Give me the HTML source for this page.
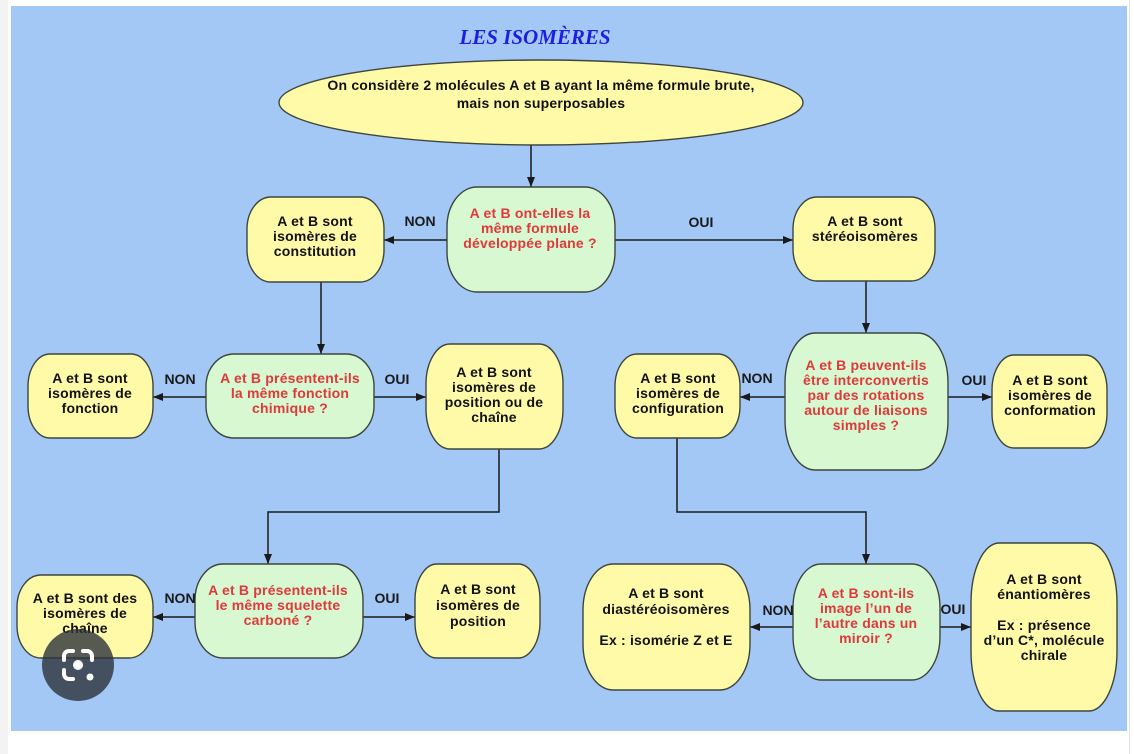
<!DOCTYPE html>
<html>
<head>
<meta charset="utf-8">
<style>
  html,body{margin:0;padding:0;background:#fff;}
  body{width:1134px;height:754px;overflow:hidden;}
  svg{display:block;}
  .t{font-family:"Liberation Sans",Arial,sans-serif;font-weight:bold;font-size:14px;text-anchor:middle;fill:#111;letter-spacing:0.2px;}
  .r{fill:#e0393b;}
  .lb{font-family:"Liberation Sans",Arial,sans-serif;font-weight:bold;font-size:14px;text-anchor:middle;fill:#1a1a1a;}
  .y{fill:#fffaa8;stroke:#3d463d;stroke-width:1.4;}
  .g{fill:#d7f8d0;stroke:#3d463d;stroke-width:1.4;}
  .ln{stroke:#1a1a1a;stroke-width:1.5;fill:none;}
</style>
</head>
<body>
<svg width="1134" height="754" viewBox="0 0 1134 754" xmlns="http://www.w3.org/2000/svg">
  <defs>
    <marker id="a" viewBox="0 0 10 8" refX="10" refY="4" markerWidth="10" markerHeight="8" markerUnits="userSpaceOnUse" orient="auto">
      <path d="M0,0 L10,4 L0,8 z" fill="#1a1a1a"/>
    </marker>
  </defs>

  <rect x="0" y="0" width="1134" height="754" fill="#ffffff"/>
  <rect x="0" y="0" width="8" height="754" fill="#f3f3f3"/>
  <rect x="1129" y="0" width="1" height="754" fill="#e2e2e2"/>
  <rect x="11" y="6" width="1116" height="725" fill="#a3c8f6"/>

  <text x="535" y="44" font-family="'Liberation Serif','Times New Roman',serif" font-weight="bold" font-style="italic" font-size="21" fill="#1e1ee0" text-anchor="middle">LES ISOMÈRES</text>

  <line class="ln" x1="531" y1="145" x2="531" y2="187" marker-end="url(#a)"/>
  <line class="ln" x1="447" y1="240" x2="384" y2="240" marker-end="url(#a)"/>
  <line class="ln" x1="615" y1="240" x2="793" y2="240" marker-end="url(#a)"/>
  <line class="ln" x1="321" y1="282" x2="321" y2="354" marker-end="url(#a)"/>
  <line class="ln" x1="206" y1="397" x2="153" y2="397" marker-end="url(#a)"/>
  <line class="ln" x1="374" y1="397" x2="426" y2="397" marker-end="url(#a)"/>
  <line class="ln" x1="866" y1="281" x2="866" y2="333" marker-end="url(#a)"/>
  <line class="ln" x1="785" y1="397" x2="740" y2="397" marker-end="url(#a)"/>
  <line class="ln" x1="948" y1="397" x2="992" y2="397" marker-end="url(#a)"/>
  <polyline class="ln" points="499,449 499,512 268,512 268,564" marker-end="url(#a)"/>
  <line class="ln" x1="195" y1="617" x2="153" y2="617" marker-end="url(#a)"/>
  <line class="ln" x1="363" y1="617" x2="415" y2="617" marker-end="url(#a)"/>
  <polyline class="ln" points="677,438 677,512 866,512 866,564" marker-end="url(#a)"/>
  <line class="ln" x1="793" y1="627" x2="750" y2="627" marker-end="url(#a)"/>
  <line class="ln" x1="940" y1="627" x2="971" y2="627" marker-end="url(#a)"/>

  <ellipse class="y" cx="541" cy="102.5" rx="262" ry="42.5"/>
  <text class="t" x="541" y="90">On considère 2 molécules A et B ayant la même formule brute,</text>
  <text class="t" x="541" y="108">mais non superposables</text>

  <rect class="g" x="447" y="187" width="168" height="105" rx="30" ry="40"/>
  <text class="t r" x="530" y="218">A et B ont-elles la</text>
  <text class="t r" x="530" y="233">même formule</text>
  <text class="t r" x="530" y="248">développée plane ?</text>

  <rect class="y" x="247" y="197" width="137" height="85" rx="24" ry="32"/>
  <text class="t" x="315" y="226">A et B sont</text>
  <text class="t" x="315" y="241">isomères de</text>
  <text class="t" x="315" y="256">constitution</text>

  <rect class="y" x="793" y="197" width="142" height="84" rx="24" ry="32"/>
  <text class="t" x="865" y="226">A et B sont</text>
  <text class="t" x="865" y="241">stéréoisomères</text>

  <text class="lb" x="420" y="226">NON</text>
  <text class="lb" x="701" y="227">OUI</text>

  <rect class="g" x="206" y="354" width="168" height="84" rx="28" ry="32"/>
  <text class="t r" x="290" y="383">A et B présentent-ils</text>
  <text class="t r" x="290" y="398">la même fonction</text>
  <text class="t r" x="290" y="413">chimique ?</text>

  <rect class="y" x="28" y="354" width="125" height="84" rx="22" ry="32"/>
  <text class="t" x="90" y="383">A et B sont</text>
  <text class="t" x="90" y="398">isomères de</text>
  <text class="t" x="90" y="413">fonction</text>

  <text class="lb" x="180" y="384">NON</text>
  <text class="lb" x="397" y="384">OUI</text>

  <rect class="y" x="426" y="344" width="137" height="105" rx="24" ry="40"/>
  <text class="t" x="494" y="377">A et B sont</text>
  <text class="t" x="494" y="392">isomères de</text>
  <text class="t" x="494" y="407">position ou de</text>
  <text class="t" x="494" y="422">chaîne</text>

  <rect class="g" x="785" y="333" width="163" height="137" rx="30" ry="50"/>
  <text class="t r" x="866" y="370">A et B peuvent-ils</text>
  <text class="t r" x="866" y="385">être interconvertis</text>
  <text class="t r" x="866" y="400">par des rotations</text>
  <text class="t r" x="866" y="415">autour de liaisons</text>
  <text class="t r" x="866" y="430">simples ?</text>

  <rect class="y" x="615" y="354" width="125" height="84" rx="22" ry="32"/>
  <text class="t" x="678" y="383">A et B sont</text>
  <text class="t" x="678" y="398">isomères de</text>
  <text class="t" x="678" y="413">configuration</text>

  <text class="lb" x="757" y="383">NON</text>
  <text class="lb" x="974" y="385">OUI</text>

  <rect class="y" x="992" y="355" width="115" height="93" rx="22" ry="35"/>
  <text class="t" x="1050" y="385">A et B sont</text>
  <text class="t" x="1050" y="400">isomères de</text>
  <text class="t" x="1050" y="415">conformation</text>

  <rect class="g" x="195" y="564" width="168" height="94" rx="28" ry="36"/>
  <text class="t r" x="278" y="595">A et B présentent-ils</text>
  <text class="t r" x="278" y="610">le même squelette</text>
  <text class="t r" x="278" y="625">carboné ?</text>

  <rect class="y" x="17" y="575" width="136" height="83" rx="24" ry="32"/>
  <text class="t" x="85" y="603">A et B sont des</text>
  <text class="t" x="85" y="618">isomères de</text>
  <text class="t" x="85" y="633">chaîne</text>

  <text class="lb" x="180" y="603">NON</text>
  <text class="lb" x="387" y="603">OUI</text>

  <rect class="y" x="415" y="564" width="125" height="94" rx="22" ry="36"/>
  <text class="t" x="478" y="594">A et B sont</text>
  <text class="t" x="478" y="610">isomères de</text>
  <text class="t" x="478" y="626">position</text>

  <rect class="g" x="793" y="564" width="147" height="116" rx="28" ry="44"/>
  <text class="t r" x="866" y="598">A et B sont-ils</text>
  <text class="t r" x="866" y="613">image l’un de</text>
  <text class="t r" x="866" y="628">l’autre dans un</text>
  <text class="t r" x="866" y="643">miroir ?</text>

  <rect class="y" x="583" y="564" width="167" height="126" rx="30" ry="46"/>
  <text class="t" x="666" y="598">A et B sont</text>
  <text class="t" x="666" y="614">diastéréoisomères</text>
  <text class="t" x="666" y="645">Ex : isomérie Z et E</text>

  <text class="lb" x="778" y="615">NON</text>
  <text class="lb" x="953" y="614">OUI</text>

  <rect class="y" x="971" y="543" width="146" height="168" rx="28" ry="60"/>
  <text class="t" x="1044" y="584">A et B sont</text>
  <text class="t" x="1044" y="599">énantiomères</text>
  <text class="t" x="1044" y="630">Ex : présence</text>
  <text class="t" x="1044" y="645">d’un C*, molécule</text>
  <text class="t" x="1044" y="660">chirale</text>

  <circle cx="78" cy="665" r="36" fill="rgba(44,50,58,0.8)"/>
  <g fill="none" stroke="#ffffff" stroke-width="4" stroke-linecap="round">
    <path d="M64,660 v-4 a5,5 0 0 1 5,-5 h4"/>
    <path d="M83,651 h4 a5,5 0 0 1 5,5 v4"/>
    <path d="M64,670 v4 a5,5 0 0 0 5,5 h4"/>
  </g>
  <circle cx="78" cy="665" r="5" fill="#ffffff"/>
  <circle cx="90" cy="677" r="3.5" fill="#ffffff"/>
</svg>
</body>
</html>
